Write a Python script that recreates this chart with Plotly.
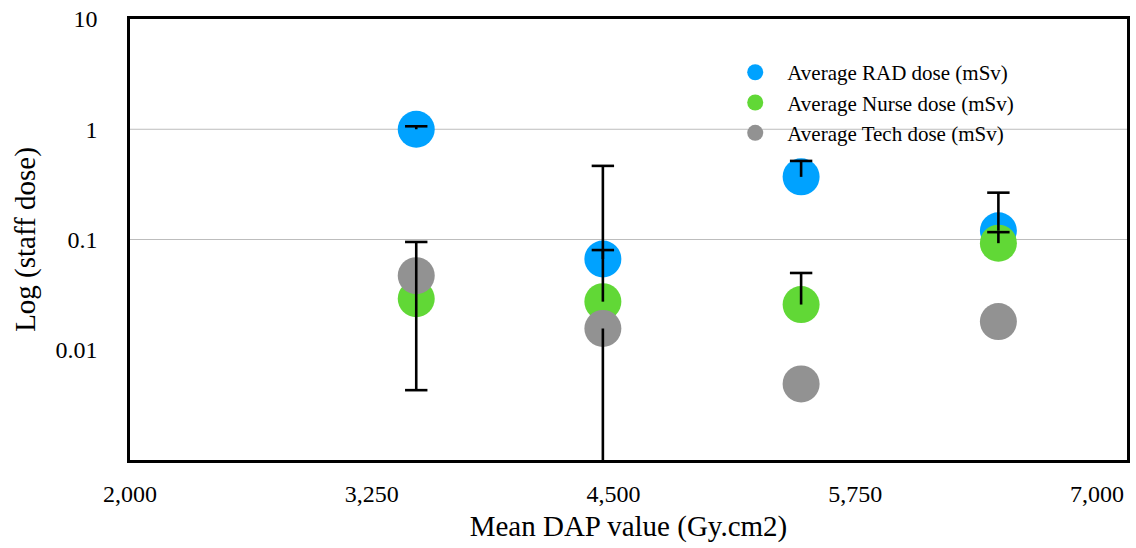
import plotly.graph_objects as go

# ---- data ----
dap = [3480, 4445, 5470, 6490]

rad_dose = [1.0, 0.0665, 0.37, 0.12]
nurse_dose = [0.029, 0.0273, 0.0257, 0.0926]
tech_dose = [0.047, 0.0156, 0.0049, 0.018]

rad_err_plus = [0.064, 0.0137, 0.146, 0.146]
rad_err_minus = [0, 0, 0, 0]
nurse_err_plus = [0, 0.438, 0.024, 0.024]
nurse_err_minus = [0, 0, 0, 0]
tech_err_plus = [0.048, 0, 0, 0]
tech_err_minus = [0.0427, 0.01559, 0, 0]

series_names = ["Average RAD dose (mSv)", "Average Nurse dose (mSv)", "Average Tech dose (mSv)"]
series_colors = ["#00A2FF", "#61D836", "#929292"]

x_ticks = [2000, 3250, 4500, 5750, 7000]
x_range = [2000, 7155]
y_ticks = [10, 1, 0.1, 0.01]
y_tick_text = ["10", "1", "0.1", "0.01"]
y_min = 0.001
grid_values = [1, 0.1]

FONT = "Liberation Serif, Times New Roman, serif"

fig = go.Figure()

values = [rad_dose, nurse_dose, tech_dose]
plus = [rad_err_plus, nurse_err_plus, tech_err_plus]
minus = [rad_err_minus, nurse_err_minus, tech_err_minus]

for v, name, col in zip(values, series_names, series_colors):
    fig.add_trace(go.Scatter(
        x=dap, y=v, mode="markers", name=name,
        marker=dict(size=37, color=col, line=dict(width=0)),
    ))

# error bar stems (no caps), drawn on top of all markers
for v, p, m in zip(values, plus, minus):
    fig.add_trace(go.Scatter(
        x=dap, y=v, mode="markers", showlegend=False, hoverinfo="skip",
        marker=dict(size=1, color="rgba(0,0,0,0)"),
        error_y=dict(type="data", symmetric=False, array=p, arrayminus=m,
                     color="black", thickness=2.6, width=0),
    ))

# error bar caps at the ends of non-zero bars
cap_x, cap_y = [], []
for v, p, m in zip(values, plus, minus):
    for xi, vi, pi, mi in zip(dap, v, p, m):
        if pi > 0:
            cap_x.append(xi)
            cap_y.append(vi + pi)
        if mi > 0 and vi - mi > y_min:
            cap_x.append(xi)
            cap_y.append(vi - mi)
fig.add_trace(go.Scatter(
    x=cap_x, y=cap_y, mode="markers", showlegend=False, hoverinfo="skip",
    marker=dict(symbol="line-ew", size=16, color="black",
                line=dict(color="black", width=2.6)),
))

for g in grid_values:
    fig.add_hline(y=g, line=dict(color="#BDBDBD", width=1), layer="below")

fig.update_layout(
    width=1136, height=548,
    margin=dict(l=130, r=6, t=18, b=88),
    paper_bgcolor="white", plot_bgcolor="white",
    font=dict(family=FONT, size=24, color="black"),
    legend=dict(x=0.595, y=0.925, xanchor="left", yanchor="top",
                bgcolor="rgba(0,0,0,0)", font=dict(size=21),
                itemsizing="trace", itemwidth=54, tracegroupgap=0),
    showlegend=True,
)

fig.update_xaxes(
    range=x_range, tickvals=x_ticks, tickformat=",",
    showgrid=False, zeroline=False,
    showline=True, linecolor="black", linewidth=2.5, mirror=True,
    ticks="", ticklabelstandoff=10,
    title=dict(text="Mean DAP value (Gy.cm2)", standoff=11),
)
fig.update_yaxes(
    type="log", range=[-3, 1], tickvals=y_ticks, ticktext=y_tick_text,
    showgrid=False, zeroline=False,
    showline=True, linecolor="black", linewidth=2.5, mirror=True,
    ticks="", ticklabelstandoff=25,
    title=dict(text="Log (staff dose)", standoff=12),
)

fig.write_html("out.html")
